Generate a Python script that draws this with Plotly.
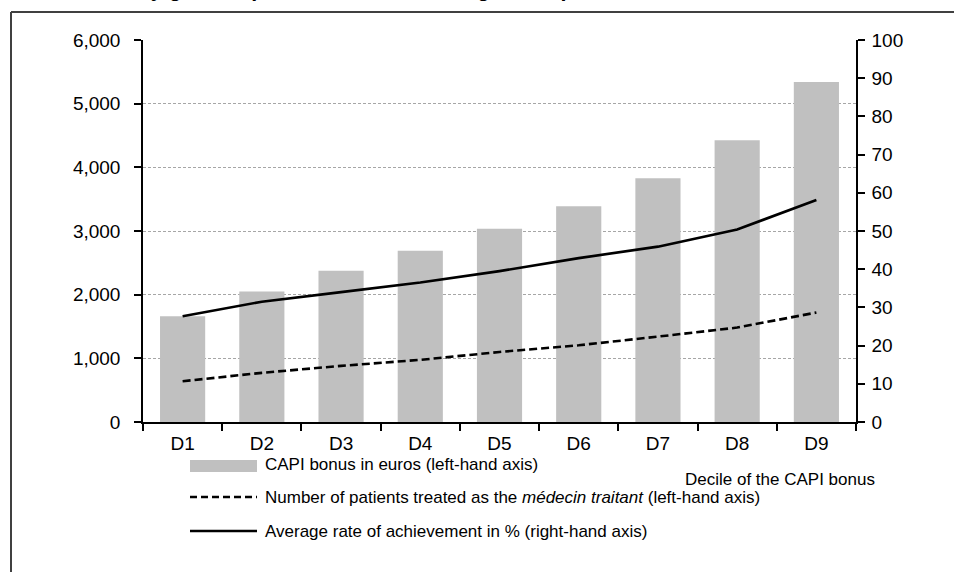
import plotly.graph_objects as go

categories = ["D1", "D2", "D3", "D4", "D5", "D6", "D7", "D8", "D9"]
capi_bonus = [1660, 2050, 2377, 2691, 3037, 3387, 3827, 4424, 5340]
patients = [641, 772, 882, 976, 1100, 1205, 1341, 1483, 1719]
achievement = [27.7, 31.5, 34.0, 36.5, 39.5, 42.9, 45.9, 50.4, 58.1]
left_ticks = [0, 1000, 2000, 3000, 4000, 5000, 6000]
right_ticks = [0, 10, 20, 30, 40, 50, 60, 70, 80, 90, 100]

legend_labels = [
    "CAPI bonus in euros (left-hand axis)",
    "Number of patients treated as the <i>médecin traitant</i> (left-hand axis)",
    "Average rate of achievement in % (right-hand axis)",
]
x_title = "Decile of the CAPI bonus"
title_text = "Results achieved by general practitioners according to the premium"

W, H = 954, 572
L, R, T, B = 143, 98, 40, 150
PW, PH = W - L - R, H - T - B

def px(x):
    return (x - L) / PW

def py(y):
    return (H - B - y) / PH

FONT = "Liberation Sans Narrow, Arial Narrow, Liberation Sans, Arial, sans-serif"

fig = go.Figure()
fig.add_trace(go.Bar(x=categories, y=capi_bonus, marker=dict(color="#c0c0c0", line=dict(width=0)),
                     name=legend_labels[0], showlegend=False))
fig.add_trace(go.Scatter(x=categories, y=patients, mode="lines",
                         line=dict(color="black", width=2.6, dash="8px,4px"),
                         name="patients", showlegend=False))
fig.add_trace(go.Scatter(x=categories, y=achievement, mode="lines", yaxis="y2",
                         line=dict(color="black", width=2.6),
                         name="achievement", showlegend=False))

fig.update_layout(
    width=W, height=H,
    margin=dict(l=L, r=R, t=T, b=B, pad=0),
    paper_bgcolor="white", plot_bgcolor="white",
    font=dict(family=FONT, size=19, color="black"),
    bargap=0.43,
    xaxis=dict(type="category", range=[-0.5, 8.5], showline=True, linecolor="black", linewidth=1.5,
               ticks="outside", tickson="boundaries", ticklen=7, tickcolor="black", tickwidth=1.5,
               showgrid=False, ticklabelstandoff=3),
    yaxis=dict(range=[0, 6000], tickvals=left_ticks, tickformat=",d", showline=True, linecolor="black",
               linewidth=1.5, ticks="outside", ticklen=7, tickcolor="black", tickwidth=1.5,
               showgrid=True, gridcolor="#a6a6a6", gridwidth=1, griddash="3px,2px",
               zeroline=False, ticklabelstandoff=10),
    yaxis2=dict(range=[0, 100], tickvals=right_ticks, overlaying="y", side="right", showline=True,
                linecolor="black", linewidth=1.5, ticks="outside", ticklen=7, tickcolor="black",
                tickwidth=1.5, showgrid=False, zeroline=False, ticklabelstandoff=3),
)

shapes = []
# frame
shapes.append(dict(type="line", xref="paper", yref="paper", x0=px(11), x1=px(960), y0=py(12), y1=py(12),
                   line=dict(color="#404040", width=2)))
shapes.append(dict(type="line", xref="paper", yref="paper", x0=px(11), x1=px(11), y0=py(12), y1=py(580),
                   line=dict(color="#404040", width=2)))
# legend swatches
shapes.append(dict(type="rect", xref="paper", yref="paper", x0=px(190), x1=px(257), y0=py(472), y1=py(460),
                   fillcolor="#c0c0c0", line=dict(width=0)))
shapes.append(dict(type="line", xref="paper", yref="paper", x0=px(190), x1=px(257), y0=py(497), y1=py(497),
                   line=dict(color="black", width=2.6, dash="7px,4px")))
shapes.append(dict(type="line", xref="paper", yref="paper", x0=px(190), x1=px(257), y0=py(531), y1=py(531),
                   line=dict(color="black", width=2.6)))
fig.update_layout(shapes=shapes)

ann = []
for lbl, yy in zip(legend_labels, [465, 498, 531]):
    ann.append(dict(text=lbl, xref="paper", yref="paper", x=px(263), y=py(yy), xanchor="left",
                    yanchor="middle", showarrow=False, font=dict(size=17)))
ann.append(dict(text=x_title, xref="paper", yref="paper", x=px(877), y=py(479), xanchor="right",
                yanchor="middle", showarrow=False, font=dict(size=17)))
ann.append(dict(text="<b>" + title_text + "</b>", xref="paper", yref="paper", x=px(-46), y=py(3.5),
                xanchor="left", yanchor="bottom", showarrow=False,
                font=dict(family="Liberation Sans, Arial, sans-serif", size=21.5)))
fig.update_layout(annotations=ann)

fig.write_html("out.html", config={"displayModeBar": False},
               post_script="document.body.style.margin='0';document.body.style.overflow='hidden';")
